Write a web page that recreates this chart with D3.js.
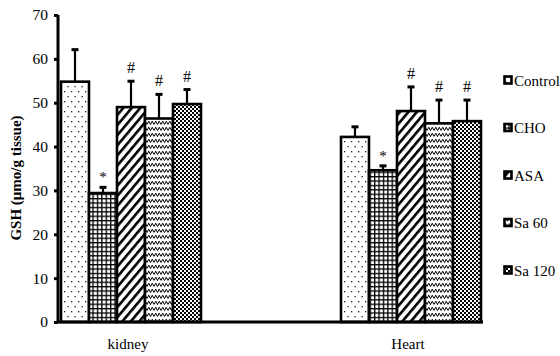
<!DOCTYPE html>
<html>
<head>
<meta charset="utf-8">
<script src="https://cdn.jsdelivr.net/npm/d3@7"></script>
<style>
  html, body { margin: 0; padding: 0; background: #fff; }
  svg { display: block; font-family: "Liberation Serif", "Times New Roman", serif; }
</style>
</head>
<body>
<svg id="chart" width="560" height="356"></svg>
<script>
// Tissues on the x axis and treatment groups in each cluster
const categories = ["kidney", "Heart"];
const series = ["Control", "CHO", "ASA", "Sa 60", "Sa 120"];

// Mean GSH per group (kidney, Heart) and the upper end of each error bar
const meanControl = [54.8, 42.2];
const meanCHO     = [29.4, 34.6];
const meanASA     = [49.0, 48.1];
const meanSa60    = [46.4, 45.3];
const meanSa120   = [49.7, 45.8];

const errControl = [62.1, 44.5];
const errCHO     = [30.7, 35.6];
const errASA     = [54.9, 53.6];
const errSa60    = [51.9, 50.6];
const errSa120   = [53.0, 50.6];

// Significance marks above each bar
const marksKidney = ["", "*", "#", "#", "#"];
const marksHeart  = ["", "*", "#", "#", "#"];

const yTicks = [0, 10, 20, 30, 40, 50, 60, 70];

const means = [meanControl, meanCHO, meanASA, meanSa60, meanSa120];
const errs  = [errControl, errCHO, errASA, errSa60, errSa120];
const marks = [marksKidney, marksHeart];

const svg = d3.select("#chart");

// ---- fill patterns ----
const defs = svg.append("defs");

// sparse dots
const pDots = defs.append("pattern").attr("id", "p0")
  .attr("patternUnits", "userSpaceOnUse").attr("width", 7).attr("height", 10);
pDots.append("rect").attr("width", 7).attr("height", 10).attr("fill", "#fff");
pDots.append("rect").attr("x", 1).attr("y", 1).attr("width", 1.3).attr("height", 1.3).attr("fill", "#222");
pDots.append("rect").attr("x", 4.5).attr("y", 6).attr("width", 1.3).attr("height", 1.3).attr("fill", "#222");

// square grid
const pGrid = defs.append("pattern").attr("id", "p1")
  .attr("patternUnits", "userSpaceOnUse").attr("width", 4.4).attr("height", 4.4);
pGrid.append("rect").attr("width", 4.4).attr("height", 4.4).attr("fill", "#fff");
pGrid.append("rect").attr("width", 1.3).attr("height", 4.4).attr("fill", "#000");
pGrid.append("rect").attr("width", 4.4).attr("height", 1.3).attr("fill", "#000");

// wide diagonal stripes
const pDiag = defs.append("pattern").attr("id", "p2")
  .attr("patternUnits", "userSpaceOnUse").attr("width", 6.5).attr("height", 6.5)
  .attr("patternTransform", "rotate(40)");
pDiag.append("rect").attr("width", 6.5).attr("height", 6.5).attr("fill", "#fff");
pDiag.append("rect").attr("width", 2.6).attr("height", 6.5).attr("fill", "#000");

// zigzag waves
const pWave = defs.append("pattern").attr("id", "p3")
  .attr("patternUnits", "userSpaceOnUse").attr("width", 7).attr("height", 6);
pWave.append("rect").attr("width", 7).attr("height", 6).attr("fill", "#fff");
pWave.append("path").attr("d", "M0,4.6 L1.75,1.2 L3.5,4.6 L5.25,1.2 L7,4.6")
  .attr("fill", "none").attr("stroke", "#000").attr("stroke-width", 1);

// fine checkerboard
const pCheck = defs.append("pattern").attr("id", "p4")
  .attr("patternUnits", "userSpaceOnUse").attr("width", 4).attr("height", 4);
pCheck.append("rect").attr("width", 4).attr("height", 4).attr("fill", "#fff");
pCheck.append("rect").attr("width", 2).attr("height", 2).attr("fill", "#000");
pCheck.append("rect").attr("x", 2).attr("y", 2).attr("width", 2).attr("height", 2).attr("fill", "#000");

// ---- scales ----
const y = d3.scaleLinear().domain([0, 70]).range([322, 15]);
const xGroup = d3.scalePoint().domain(categories).range([131, 411]);
const xSeries = d3.scaleBand().domain(series).range([-70, 70]).paddingInner(0);

// ---- bars ----
const bars = [];
categories.forEach((c, ci) => {
  series.forEach((s, si) => {
    bars.push({ c, ci, s, si, v: means[si][ci], e: errs[si][ci], m: marks[ci][si] });
  });
});

const g = svg.append("g");
const cx = d => xGroup(d.c) + xSeries(d.s) + xSeries.bandwidth() / 2;

// error bars (drawn under the bar outline)
const eb = g.selectAll("g.err").data(bars).enter().append("g").attr("class", "err");
eb.append("line")
  .attr("x1", cx).attr("x2", cx)
  .attr("y1", d => y(d.v)).attr("y2", d => y(d.e))
  .attr("stroke", "#000").attr("stroke-width", 2.2);
eb.append("line")
  .attr("x1", d => cx(d) - 3.5).attr("x2", d => cx(d) + 3.5)
  .attr("y1", d => y(d.e)).attr("y2", d => y(d.e))
  .attr("stroke", "#000").attr("stroke-width", 3);

g.selectAll("rect.bar").data(bars).enter().append("rect")
  .attr("class", "bar")
  .attr("x", d => xGroup(d.c) + xSeries(d.s))
  .attr("width", xSeries.bandwidth())
  .attr("y", d => y(d.v))
  .attr("height", d => y(0) - y(d.v))
  .attr("fill", d => `url(#p${d.si})`)
  .attr("stroke", "#000").attr("stroke-width", 2.6);

// significance marks
g.selectAll("text.mark").data(bars.filter(d => d.m)).enter().append("text")
  .attr("class", "mark")
  .attr("x", cx)
  .attr("y", d => y(d.e) - (d.m === "*" ? 5 : 8))
  .attr("text-anchor", "middle")
  .attr("font-size", d => d.m === "*" ? 15 : 16)
  .attr("fill", "#000")
  .text(d => d.m);

// ---- axes ----
const yAxis = svg.append("g").attr("transform", "translate(58,0)")
  .call(d3.axisLeft(y).tickValues(yTicks).tickSize(4).tickPadding(6));
yAxis.select(".domain").attr("stroke", "#000").attr("stroke-width", 3)
  .attr("d", `M0,${y(0)}V${y(70)}`);
yAxis.selectAll(".tick line").attr("stroke", "#000").attr("stroke-width", 3);
yAxis.selectAll(".tick text").attr("font-size", 15.5)
  .attr("font-family", "Liberation Serif, serif").attr("fill", "#000");

// x axis line
svg.append("line")
  .attr("x1", 57).attr("x2", 483)
  .attr("y1", y(0)).attr("y2", y(0))
  .attr("stroke", "#000").attr("stroke-width", 3);

// category labels
svg.selectAll("text.cat").data(categories).enter().append("text")
  .attr("class", "cat")
  .attr("x", d => xGroup(d) - 3)
  .attr("y", 349)
  .attr("text-anchor", "middle")
  .attr("font-size", 15)
  .text(d => d);

// y axis title
svg.append("text")
  .attr("transform", "translate(21,178) rotate(-90)")
  .attr("text-anchor", "middle")
  .attr("font-size", 15)
  .attr("font-weight", "bold")
  .text("GSH (μmo/g tissue)");

// ---- legend ----
const legend = svg.append("g");
const legendRow = d3.scalePoint().domain(series).range([80, 270]);
const li = legend.selectAll("g").data(series).enter().append("g")
  .attr("transform", d => `translate(504,${legendRow(d)})`);
li.append("rect")
  .attr("x", 0.5).attr("y", -3.5).attr("width", 7).attr("height", 7)
  .attr("fill", (d, i) => `url(#p${i})`)
  .attr("stroke", "#000").attr("stroke-width", 2.6);
li.append("text")
  .attr("x", 10).attr("y", 5.5)
  .attr("font-size", 15)
  .text(d => d);
</script>
</body>
</html>
